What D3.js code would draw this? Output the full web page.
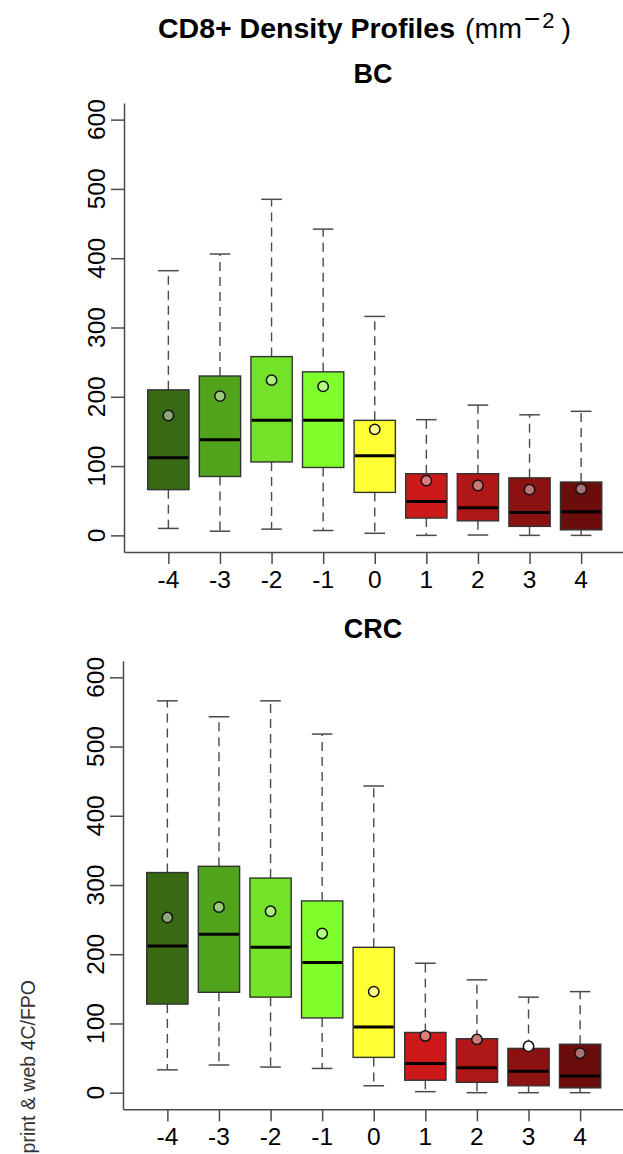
<!DOCTYPE html>
<html>
<head>
<meta charset="utf-8">
<script src="https://cdn.jsdelivr.net/npm/d3@7"></script>
<style>
  html, body { margin: 0; padding: 0; background: #fff; }
  svg { display: block; }
  text { font-family: "Liberation Sans", Arial, Helvetica, sans-serif; }
</style>
</head>
<body>
<svg id="chart" width="623" height="1154"></svg>
<script>
// ---------- data ----------
const categories = ["-4", "-3", "-2", "-1", "0", "1", "2", "3", "4"];
const yTicks = [0, 100, 200, 300, 400, 500, 600];

const boxColors = ["#386a14", "#52a31c", "#74e228", "#80ff2c", "#ffff33",
                   "#cc1a1a", "#b01717", "#8c1111", "#6b0d0d"];

// BC
const bcLow    = [10, 6, 9, 7, 3, 0, 0.5, 0, 0];
const bcQ1     = [66, 85, 106, 98, 62, 25, 21, 13, 8];
const bcMedian = [112, 138, 166, 166, 115, 49, 40, 33, 34];
const bcQ3     = [210, 230, 258, 236, 166, 89, 89, 83, 77];
const bcHigh   = [382, 406, 485, 442, 316, 167, 188, 174, 179];
const bcMean   = [173, 201, 224, 215, 153, 79, 72, 66, 67];

// CRC
const crcLow    = [33, 40, 37, 35, 10, 1.5, 0, 0, 0];
const crcQ1     = [128, 145, 138, 108, 51, 18, 15, 10, 7];
const crcMedian = [212, 229, 210, 188, 95, 42, 36, 31, 24];
const crcQ3     = [318, 327, 310, 277, 210, 87, 78, 64, 70];
const crcHigh   = [566, 543, 566, 518, 443, 187, 163, 138, 146];
const crcMean   = [253, 268, 262, 230, 146, 82, 77, 67, 57];

const bcMeanFill  = boxColors.map(c => d3.interpolateRgb(c, "#ffffff")(0.42));
const crcMeanFill = boxColors.map((c, i) => i === 7 ? "#ffffff" : d3.interpolateRgb(c, "#ffffff")(0.42));

// ---------- drawing ----------
const svg = d3.select("#chart");
const axisColor = "#4a4a4a";

// Title
const title = svg.append("text")
  .attr("x", 158).attr("y", 38)
  .attr("fill", "#000");
title.append("tspan").attr("font-weight", "bold").attr("font-size", 28.5).text("CD8+ Density Profiles");
title.append("tspan").attr("font-size", 28.5).attr("dx", 2).text(" (mm");
title.append("tspan").attr("font-size", 28).attr("dx", 2).attr("dy", -10).text("\u2212");
title.append("tspan").attr("font-size", 22).attr("dx", 2).text("2");
title.append("tspan").attr("font-size", 28.5).attr("dx", 7).attr("dy", 10).text(")");

// Side text
svg.append("text")
  .attr("transform", "translate(35,980) rotate(-90)")
  .attr("text-anchor", "end")
  .attr("font-size", 19.5)
  .attr("fill", "#333")
  .text("print & web 4C/FPO");

const panels = [
  { name: "BC",  titleY: 83,  top: 103,   bottom: 552,    left: 124,
    low: bcLow, q1: bcQ1, med: bcMedian, q3: bcQ3, high: bcHigh, mean: bcMean, meanFill: bcMeanFill },
  { name: "CRC", titleY: 638, top: 660.7, bottom: 1109.3, left: 123,
    low: crcLow, q1: crcQ1, med: crcMedian, q3: crcQ3, high: crcHigh, mean: crcMean, meanFill: crcMeanFill }
];

panels.forEach(p => {
  const g = svg.append("g");
  const x = d3.scaleLinear().domain([0.14, 9.86]).range([p.left, p.left + 501.5]);
  const y = d3.scaleLinear().domain([-24, 624]).range([p.bottom, p.top]);
  const unit = x(2) - x(1);
  const bw = 0.8 * unit;

  g.append("text")
    .attr("x", 373).attr("y", p.titleY)
    .attr("text-anchor", "middle")
    .attr("font-weight", "bold").attr("font-size", 27)
    .text(p.name);

  // axes
  const yAxis = d3.axisLeft(y).tickValues(yTicks).tickSize(13).tickSizeOuter(0).tickFormat("");
  const ay = g.append("g").attr("transform", `translate(${p.left},0)`).call(yAxis);
  const xAxis = d3.axisBottom(x).tickValues(d3.range(1, 10)).tickSize(12).tickSizeOuter(0).tickFormat("");
  const ax = g.append("g").attr("transform", `translate(0,${p.bottom})`).call(xAxis);
  [ay, ax].forEach(a => {
    a.selectAll("path.domain").attr("stroke", axisColor).attr("stroke-width", 1.5);
    a.selectAll(".tick line").attr("stroke", axisColor).attr("stroke-width", 1.5);
  });

  g.selectAll(".ylab").data(yTicks).join("text")
    .attr("class", "ylab")
    .attr("transform", d => `translate(${p.left - 19},${y(d)}) rotate(-90)`)
    .attr("text-anchor", "middle")
    .attr("font-size", 24.5)
    .text(d => d);

  g.selectAll(".xlab").data(categories).join("text")
    .attr("class", "xlab")
    .attr("x", (d, i) => x(i + 1))
    .attr("y", p.bottom + 35.5)
    .attr("text-anchor", "middle")
    .attr("font-size", 24.5)
    .text(d => d);

  const idx = d3.range(categories.length);
  const cx = i => x(i + 1);

  // whiskers (dashed)
  g.selectAll(".wu").data(idx).join("line")
    .attr("x1", cx).attr("x2", cx)
    .attr("y1", i => y(p.q3[i])).attr("y2", i => y(p.high[i]))
    .attr("stroke", "#4a4a4a").attr("stroke-width", 1.4).attr("stroke-dasharray", "9,6");
  g.selectAll(".wl").data(idx).join("line")
    .attr("x1", cx).attr("x2", cx)
    .attr("y1", i => y(p.q1[i])).attr("y2", i => y(p.low[i]))
    .attr("stroke", "#4a4a4a").attr("stroke-width", 1.4).attr("stroke-dasharray", "9,6");
  // caps
  g.selectAll(".ch").data(idx).join("line")
    .attr("x1", i => cx(i) - bw / 4).attr("x2", i => cx(i) + bw / 4)
    .attr("y1", i => y(p.high[i])).attr("y2", i => y(p.high[i]))
    .attr("stroke", "#4a4a4a").attr("stroke-width", 1.5);
  g.selectAll(".cl").data(idx).join("line")
    .attr("x1", i => cx(i) - bw / 4).attr("x2", i => cx(i) + bw / 4)
    .attr("y1", i => y(p.low[i])).attr("y2", i => y(p.low[i]))
    .attr("stroke", "#4a4a4a").attr("stroke-width", 1.5);

  // boxes
  g.selectAll(".box").data(idx).join("rect")
    .attr("x", i => cx(i) - bw / 2)
    .attr("width", bw)
    .attr("y", i => y(p.q3[i]))
    .attr("height", i => y(p.q1[i]) - y(p.q3[i]))
    .attr("fill", i => boxColors[i])
    .attr("stroke", "#333").attr("stroke-width", 1.4);

  // medians
  g.selectAll(".med").data(idx).join("line")
    .attr("x1", i => cx(i) - bw / 2 + 0.7).attr("x2", i => cx(i) + bw / 2 - 0.7)
    .attr("y1", i => y(p.med[i])).attr("y2", i => y(p.med[i]))
    .attr("stroke", "#000").attr("stroke-width", 3);

  // means
  g.selectAll(".mean").data(idx).join("circle")
    .attr("cx", cx)
    .attr("cy", i => y(p.mean[i]))
    .attr("r", 5.2)
    .attr("fill", i => p.meanFill[i])
    .attr("stroke", "#111").attr("stroke-width", 1.5);
});
</script>
</body>
</html>
